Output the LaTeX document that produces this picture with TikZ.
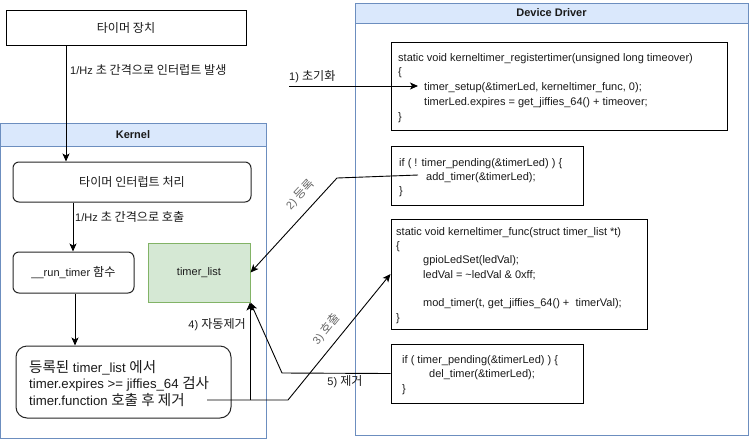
\documentclass[tikz,border=0pt]{standalone}
\usepackage{fontspec}
\setmainfont{Liberation Sans}
\newfontfamily\kr[Scale=1.1]{Noto Sans CJK KR}
\newcommand\K[1]{{\kr #1}}
\usetikzlibrary{arrows.meta}
\definecolor{hdrfill}{HTML}{DAE8FC}
\definecolor{hdrline}{HTML}{6C8EBF}
\definecolor{grfill}{HTML}{D5E8D4}
\definecolor{grline}{HTML}{82B366}
\definecolor{txt}{HTML}{1A1A1A}
\tikzset{
  base/.style={font=\fontsize{11}{13}\selectfont, text=txt},
  plainbox/.style={draw=black, line width=1pt, fill=white, inner sep=0pt},
  kbox/.style={draw=black!85, line width=1pt, fill=white, rounded corners=6pt, inner sep=0pt},
  container/.style={draw=hdrline, line width=0.9pt, fill=white},
  header/.style={draw=hdrline, line width=0.9pt, fill=hdrfill},
  codetext/.style={base, anchor=base west, align=left, inner sep=0pt},
  lbl/.style={base, inner sep=1pt},
  conn/.style={draw=black, line width=0.9pt, -{Stealth[length=8pt,width=7pt,inset=2pt]}},
}
\begin{document}
\begin{tikzpicture}[x=1pt,y=-1pt]
\useasboundingbox (0,0) rectangle (750,440);
% containers
\draw[container] (0,123) rectangle (266,438);
\draw[header] (0,123) rectangle (266,146);
\node[base, font=\fontsize{11}{13}\selectfont\bfseries] (khdr) at (133,134.5) {Kernel};
\draw[container] (355,3) rectangle (748,435);
\draw[header] (355,3) rectangle (748,23);
\node[base, font=\fontsize{11}{13}\selectfont\bfseries] (dhdr) at (551.5,13) {Device Driver};

% top device
\node[plainbox, minimum width=240pt, minimum height=35pt, base] (dev) at (126,27.5) {\K{타이머 장치}};

% kernel boxes
\node[kbox, minimum width=238pt, minimum height=40pt, base] (isr) at (132,182) {\K{타이머 인터럽트 처리}};
\node[kbox, minimum width=121pt, minimum height=41pt, base] (run) at (73.5,272.5) {\_\_run\_timer \K{함수}};
\node[kbox, rounded corners=11pt, minimum width=215pt, minimum height=72pt] (chk) at (123.5,382) {};
\node[codetext, font=\fontsize{13.2}{16.5}\selectfont] (chkt) at (29,405)
  {\K{등록된} timer\_list \K{에서}\\ timer.expires >= jiffies\_64 \K{검사}\\ timer.function \K{호출 후 제거}};
\node[draw=grline, fill=grfill, line width=1pt, minimum width=102pt, minimum height=59pt, inner sep=0pt, base] (tl) at (199,272.5) {timer\_list};

% driver boxes
\node[plainbox, minimum width=336pt, minimum height=88pt] (b1) at (559,86) {};
\node[codetext, font=\fontsize{11}{14.7}\selectfont] (b1t) at (398,120)
  {static void kerneltimer\_registertimer(unsigned long timeover)\\
   \{\\
   \hspace*{26pt}timer\_setup(\&timerLed, kerneltimer\_func, 0);\\
   \hspace*{26pt}timerLed.expires = get\_jiffies\_64() + timeover;\\
   \}};
\node[plainbox, minimum width=192pt, minimum height=59pt] (b2) at (487,175.5) {};
\node[codetext, font=\fontsize{11}{14}\selectfont] (b2t) at (399,194)
  {if ( ! timer\_pending(\&timerLed) ) \{\\
   \hspace*{27pt}add\_timer(\&timerLed);\\
   \}};
\node[plainbox, minimum width=256pt, minimum height=110pt] (b3) at (519,274) {};
\node[codetext, font=\fontsize{11}{14.3}\selectfont] (b3t) at (396,321)
  {static void kerneltimer\_func(struct timer\_list *t)\\
   \{\\
   \hspace*{27pt}gpioLedSet(ledVal);\\
   \hspace*{27pt}ledVal = \textasciitilde ledVal \& 0xff;\\
   \mbox{}\\
   \hspace*{27pt}mod\_timer(t, get\_jiffies\_64() + \ timerVal);\\
   \}};
\node[plainbox, minimum width=192pt, minimum height=59pt] (b4) at (487,373.5) {};
\node[codetext, font=\fontsize{11}{14.5}\selectfont] (b4t) at (402,392)
  {if ( timer\_pending(\&timerLed) ) \{\\
   \hspace*{27pt}del\_timer(\&timerLed);\\
   \}};

% connector points
\coordinate (c1s) at (289,86);
\coordinate (c1e) at (418,86);
\coordinate (c2s) at (418,175);
\coordinate (c2b) at (337,178);
\coordinate (c3s) at (207,400);
\coordinate (c3b) at (288,400);
\coordinate (c4s) at (250,400);
\coordinate (c5b) at (282,373);

% connectors
\draw[conn] (dev.south -| 66,0) -- (isr.north -| 66,0);
\node[lbl, anchor=west] (l0) at (69,70) {1/Hz \K{초 간격으로 인터럽트 발생}};
\draw[conn] (isr.south -| 73,0) -- (run.north -| 73,0);
\node[lbl, anchor=west] (l00) at (74,217) {1/Hz \K{초 간격으로 호출}};
\draw[conn] (run.south -| 75,0) -- (chk.north -| 75,0);

\draw[conn] (c1s) -- (c1e);
\node[lbl, anchor=south west] (l1) at (288,84) {1) \K{초기화}};

\draw[conn] (c2s) -- (c2b) -- (tl.east);
\node[lbl, rotate=47, text=black!60] (l2) at (300,195) {2) \K{등록}};

\draw[conn] (c3s) -- (c3b) -- (b3.west);
\node[lbl, rotate=51, text=black!60] (l3) at (326,329) {3) \K{호출}};

\draw[conn] (c4s) -- (tl.south -| c4s);
\node[lbl, anchor=east] (l4) at (247,325) {4) \K{자동제거}};

\draw[conn] (b4.west) -- (c5b) -- (tl.south east);
\node[lbl] (l5) at (345,382) {5) \K{제거}};
\end{tikzpicture}
\end{document}
